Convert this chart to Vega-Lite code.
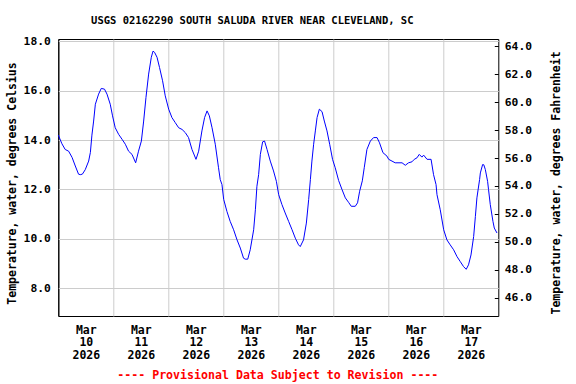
{
  "$schema": "https://vega.github.io/schema/vega-lite/v6.json",
  "width": 440,
  "height": 277,
  "autosize": {"type": "none"},
  "padding": {"left": 58.3, "top": 39, "right": 77.7, "bottom": 68},
  "background": "white",
  "title": {"text": "USGS 02162290 SOUTH SALUDA RIVER NEAR CLEVELAND, SC", "font": "DejaVu Sans Mono", "fontSize": 10.5, "fontWeight": "bold", "color": "black", "anchor": "middle", "dx": -26, "offset": 9},
  "config": {
    "view": {"stroke": "black", "strokeWidth": 1},
    "axis": {"labelFont": "DejaVu Sans Mono", "labelFontSize": 11.3, "labelFontWeight": "bold", "labelColor": "black", "titleFont": "DejaVu Sans Mono", "titleFontSize": 11.5, "titleFontWeight": "bold", "titleColor": "black", "gridColor": "#cccccc", "gridWidth": 1, "domain": false}
  },
  "layer": [
    {
      "data": {"values": [
        {"t": "2026-03-10T00:00", "c": 14.2}, {"t": "2026-03-10T01:35", "c": 13.85}, {"t": "2026-03-10T03:00", "c": 13.62}, {"t": "2026-03-10T04:30", "c": 13.55}, {"t": "2026-03-10T06:00", "c": 13.3}, {"t": "2026-03-10T07:25", "c": 12.95}, {"t": "2026-03-10T08:50", "c": 12.62}, {"t": "2026-03-10T09:35", "c": 12.6}, {"t": "2026-03-10T10:30", "c": 12.62}, {"t": "2026-03-10T11:45", "c": 12.8}, {"t": "2026-03-10T13:15", "c": 13.15}, {"t": "2026-03-10T14:00", "c": 13.5}, {"t": "2026-03-10T14:40", "c": 14.2}, {"t": "2026-03-10T15:25", "c": 14.77}, {"t": "2026-03-10T16:10", "c": 15.45}, {"t": "2026-03-10T17:35", "c": 15.86}, {"t": "2026-03-10T18:45", "c": 16.09}, {"t": "2026-03-10T20:10", "c": 16.06}, {"t": "2026-03-10T21:15", "c": 15.86}, {"t": "2026-03-10T22:40", "c": 15.45}, {"t": "2026-03-10T23:40", "c": 14.98},
        {"t": "2026-03-11T00:50", "c": 14.5}, {"t": "2026-03-11T02:20", "c": 14.23}, {"t": "2026-03-11T03:50", "c": 14.03}, {"t": "2026-03-11T05:15", "c": 13.83}, {"t": "2026-03-11T06:40", "c": 13.55}, {"t": "2026-03-11T08:10", "c": 13.42}, {"t": "2026-03-11T09:45", "c": 13.08}, {"t": "2026-03-11T11:00", "c": 13.55}, {"t": "2026-03-11T12:15", "c": 13.96}, {"t": "2026-03-11T13:15", "c": 14.77}, {"t": "2026-03-11T14:15", "c": 15.72}, {"t": "2026-03-11T15:25", "c": 16.67}, {"t": "2026-03-11T16:35", "c": 17.35}, {"t": "2026-03-11T17:20", "c": 17.6}, {"t": "2026-03-11T18:00", "c": 17.55}, {"t": "2026-03-11T19:05", "c": 17.35}, {"t": "2026-03-11T20:10", "c": 16.94}, {"t": "2026-03-11T21:30", "c": 16.4}, {"t": "2026-03-11T22:40", "c": 15.79},
        {"t": "2026-03-12T00:10", "c": 15.25}, {"t": "2026-03-12T01:35", "c": 14.91}, {"t": "2026-03-12T03:00", "c": 14.71}, {"t": "2026-03-12T04:30", "c": 14.5}, {"t": "2026-03-12T06:00", "c": 14.43}, {"t": "2026-03-12T07:25", "c": 14.3}, {"t": "2026-03-12T08:50", "c": 14.1}, {"t": "2026-03-12T10:20", "c": 13.62}, {"t": "2026-03-12T12:05", "c": 13.22}, {"t": "2026-03-12T13:15", "c": 13.55}, {"t": "2026-03-12T14:40", "c": 14.37}, {"t": "2026-03-12T15:50", "c": 14.91}, {"t": "2026-03-12T16:55", "c": 15.18}, {"t": "2026-03-12T17:55", "c": 14.98}, {"t": "2026-03-12T19:05", "c": 14.5}, {"t": "2026-03-12T20:30", "c": 13.83}, {"t": "2026-03-12T21:55", "c": 12.88}, {"t": "2026-03-12T22:40", "c": 12.4}, {"t": "2026-03-12T23:25", "c": 12.2},
        {"t": "2026-03-13T00:10", "c": 11.6}, {"t": "2026-03-13T01:35", "c": 11.11}, {"t": "2026-03-13T03:00", "c": 10.71}, {"t": "2026-03-13T04:30", "c": 10.37}, {"t": "2026-03-13T06:00", "c": 9.96}, {"t": "2026-03-13T07:25", "c": 9.63}, {"t": "2026-03-13T08:50", "c": 9.22}, {"t": "2026-03-13T09:35", "c": 9.18}, {"t": "2026-03-13T10:40", "c": 9.18}, {"t": "2026-03-13T11:45", "c": 9.56}, {"t": "2026-03-13T13:15", "c": 10.37}, {"t": "2026-03-13T14:00", "c": 11.18}, {"t": "2026-03-13T14:40", "c": 12.13}, {"t": "2026-03-13T15:25", "c": 12.6}, {"t": "2026-03-13T16:10", "c": 13.42}, {"t": "2026-03-13T17:10", "c": 13.93}, {"t": "2026-03-13T18:00", "c": 13.96}, {"t": "2026-03-13T19:05", "c": 13.62}, {"t": "2026-03-13T20:30", "c": 13.15}, {"t": "2026-03-13T21:55", "c": 12.75}, {"t": "2026-03-13T23:10", "c": 12.33},
        {"t": "2026-03-14T00:10", "c": 11.79}, {"t": "2026-03-14T01:35", "c": 11.39}, {"t": "2026-03-14T03:00", "c": 11.05}, {"t": "2026-03-14T04:30", "c": 10.71}, {"t": "2026-03-14T06:00", "c": 10.37}, {"t": "2026-03-14T07:25", "c": 10.03}, {"t": "2026-03-14T08:50", "c": 9.76}, {"t": "2026-03-14T09:35", "c": 9.69}, {"t": "2026-03-14T11:00", "c": 9.96}, {"t": "2026-03-14T12:15", "c": 10.64}, {"t": "2026-03-14T13:15", "c": 11.59}, {"t": "2026-03-14T14:00", "c": 12.4}, {"t": "2026-03-14T14:40", "c": 13.15}, {"t": "2026-03-14T15:25", "c": 13.83}, {"t": "2026-03-14T16:10", "c": 14.37}, {"t": "2026-03-14T16:55", "c": 14.91}, {"t": "2026-03-14T17:55", "c": 15.25}, {"t": "2026-03-14T19:05", "c": 15.15}, {"t": "2026-03-14T20:05", "c": 14.77}, {"t": "2026-03-14T21:15", "c": 14.37}, {"t": "2026-03-14T22:25", "c": 13.83}, {"t": "2026-03-14T23:40", "c": 13.22},
        {"t": "2026-03-15T00:50", "c": 12.88}, {"t": "2026-03-15T02:20", "c": 12.36}, {"t": "2026-03-15T03:50", "c": 11.99}, {"t": "2026-03-15T05:15", "c": 11.66}, {"t": "2026-03-15T06:40", "c": 11.48}, {"t": "2026-03-15T07:50", "c": 11.32}, {"t": "2026-03-15T09:35", "c": 11.32}, {"t": "2026-03-15T10:35", "c": 11.46}, {"t": "2026-03-15T11:30", "c": 11.93}, {"t": "2026-03-15T12:40", "c": 12.35}, {"t": "2026-03-15T13:30", "c": 12.88}, {"t": "2026-03-15T14:40", "c": 13.62}, {"t": "2026-03-15T16:10", "c": 13.96}, {"t": "2026-03-15T17:35", "c": 14.1}, {"t": "2026-03-15T19:05", "c": 14.1}, {"t": "2026-03-15T20:10", "c": 13.89}, {"t": "2026-03-15T21:40", "c": 13.49}, {"t": "2026-03-15T23:25", "c": 13.35},
        {"t": "2026-03-16T00:10", "c": 13.22}, {"t": "2026-03-16T03:00", "c": 13.08}, {"t": "2026-03-16T06:00", "c": 13.08}, {"t": "2026-03-16T07:25", "c": 12.98}, {"t": "2026-03-16T08:50", "c": 13.08}, {"t": "2026-03-16T10:20", "c": 13.12}, {"t": "2026-03-16T11:20", "c": 13.22}, {"t": "2026-03-16T12:30", "c": 13.28}, {"t": "2026-03-16T13:30", "c": 13.42}, {"t": "2026-03-16T14:40", "c": 13.31}, {"t": "2026-03-16T15:25", "c": 13.39}, {"t": "2026-03-16T16:55", "c": 13.22}, {"t": "2026-03-16T18:40", "c": 13.22}, {"t": "2026-03-16T19:45", "c": 12.6}, {"t": "2026-03-16T20:50", "c": 12.2}, {"t": "2026-03-16T21:15", "c": 11.79}, {"t": "2026-03-16T22:40", "c": 11.18},
        {"t": "2026-03-17T00:10", "c": 10.37}, {"t": "2026-03-17T01:35", "c": 9.96}, {"t": "2026-03-17T03:00", "c": 9.76}, {"t": "2026-03-17T04:30", "c": 9.56}, {"t": "2026-03-17T06:00", "c": 9.28}, {"t": "2026-03-17T07:25", "c": 9.08}, {"t": "2026-03-17T08:50", "c": 8.88}, {"t": "2026-03-17T10:00", "c": 8.77}, {"t": "2026-03-17T11:00", "c": 8.95}, {"t": "2026-03-17T12:05", "c": 9.35}, {"t": "2026-03-17T13:15", "c": 10.1}, {"t": "2026-03-17T14:00", "c": 10.91}, {"t": "2026-03-17T14:40", "c": 11.66}, {"t": "2026-03-17T15:50", "c": 12.4}, {"t": "2026-03-17T16:10", "c": 12.67}, {"t": "2026-03-17T17:10", "c": 13.01}, {"t": "2026-03-17T17:40", "c": 13.0}, {"t": "2026-03-17T18:20", "c": 12.81}, {"t": "2026-03-17T19:20", "c": 12.33}, {"t": "2026-03-17T19:45", "c": 11.99}, {"t": "2026-03-17T20:30", "c": 11.39}, {"t": "2026-03-17T21:40", "c": 10.71}, {"t": "2026-03-17T22:15", "c": 10.44}, {"t": "2026-03-17T23:25", "c": 10.24}
      ]},
      "mark": {"type": "line", "color": "#0000ff", "strokeWidth": 1},
      "encoding": {
        "x": {
          "field": "t", "type": "temporal",
          "scale": {"domain": [{"year": 2026, "month": 3, "date": 10}, {"year": 2026, "month": 3, "date": 18}]},
          "axis": {
            "values": [{"year": 2026, "month": 3, "date": 10}, {"year": 2026, "month": 3, "date": 11}, {"year": 2026, "month": 3, "date": 12}, {"year": 2026, "month": 3, "date": 13}, {"year": 2026, "month": 3, "date": 14}, {"year": 2026, "month": 3, "date": 15}, {"year": 2026, "month": 3, "date": 16}, {"year": 2026, "month": 3, "date": 17}],
            "grid": true,
            "gridColor": {"condition": {"test": "datum.value < datetime(2026, 2, 10, 6)", "value": "black"}, "value": "#cccccc"},
            "ticks": false,
            "labelOffset": 27.5,
            "labelExpr": "[timeFormat(datum.value, '%b'), timeFormat(datum.value, '%d'), timeFormat(datum.value, '%Y')]",
            "labelFontSize": 11.5,
            "labelBaseline": "top",
            "labelPadding": 8,
            "labelLineHeight": 12.5,
            "labelAlign": "center",
            "labelFlush": false,
            "labelOverlap": false,
            "title": "---- Provisional Data Subject to Revision ----",
            "titleColor": "red",
            "titleFontSize": 11.6,
            "titleX": 219,
            "titleY": 59,
            "titleBaseline": "middle",
            "titleAlign": "center"
          }
        },
        "y": {
          "field": "c", "type": "quantitative",
          "scale": {"domain": [6.88, 18.09], "nice": false, "zero": false},
          "axis": {
            "values": [8, 10, 12, 14, 16, 18],
            "format": ".1f",
            "grid": true,
            "ticks": false,
            "labelPadding": 8,
            "title": "Temperature, water, degrees Celsius",
            "titleX": -46,
            "titleY": 144,
            "titleAngle": -90,
            "titleAlign": "center",
            "titleBaseline": "middle"
          }
        }
      }
    },
    {
      "data": {"values": [{"f": 50}]},
      "mark": {"type": "point", "opacity": 0},
      "encoding": {
        "y": {
          "field": "f", "type": "quantitative",
          "scale": {"domain": [44.69, 64.52], "nice": false, "zero": false},
          "axis": {
            "orient": "right",
            "values": [46, 48, 50, 52, 54, 56, 58, 60, 62, 64],
            "format": ".1f",
            "grid": false,
            "ticks": true,
            "tickSize": -4,
            "tickColor": "black",
            "labelPadding": 10,
            "title": "Temperature, water, degrees Fahrenheit",
            "titleX": 58.5,
            "titleY": 143.5,
            "titleAngle": -90,
            "titleAlign": "center",
            "titleBaseline": "middle"
          }
        }
      }
    }
  ],
  "resolve": {"scale": {"y": "independent"}}
}
